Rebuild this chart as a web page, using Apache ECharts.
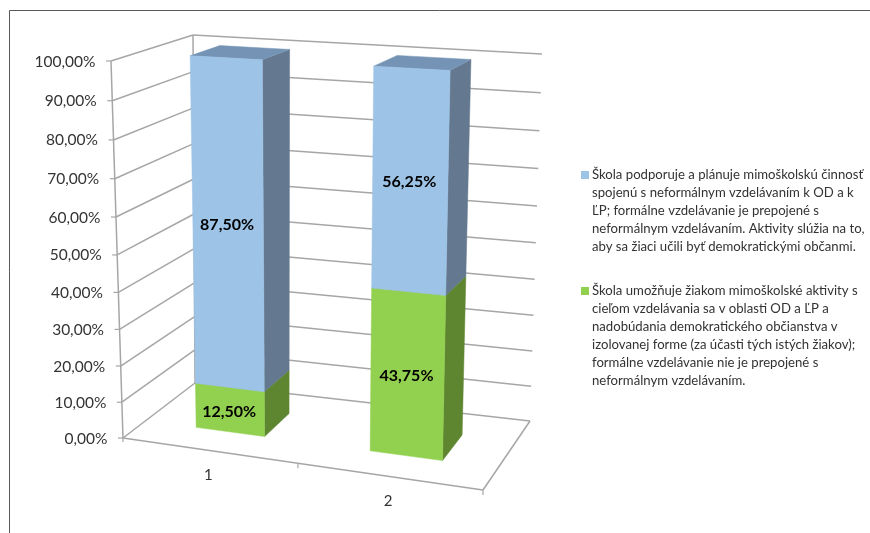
<!DOCTYPE html>
<html>
<head>
<meta charset="utf-8">
<style>html,body{margin:0;padding:0;background:#fff}#c{width:870px;height:533px}</style>
<script src="https://cdn.jsdelivr.net/npm/echarts@6/dist/echarts.min.js"></script>
</head>
<body>
<div id="c"></div>
<script>
const categories = ['1', '2'];
const yTicks = [0, 10, 20, 30, 40, 50, 60, 70, 80, 90, 100];
const yTickLabels = ['0,00%', '10,00%', '20,00%', '30,00%', '40,00%', '50,00%', '60,00%', '70,00%', '80,00%', '90,00%', '100,00%'];
const greenValues = [12.5, 43.75];
const blueValues = [87.5, 56.25];
const greenLabels = ['12,50%', '43,75%'];
const blueLabels = ['87,50%', '56,25%'];
const blueName = 'Škola podporuje a plánuje mimoškolskú činnosť\nspojenú s neformálnym vzdelávaním k OD a k\nĽP; formálne vzdelávanie je prepojené s\nneformálnym vzdelávaním. Aktivity slúžia na to,\naby sa žiaci učili byť demokratickými občanmi.';
const greenName = 'Škola umožňuje žiakom mimoškolské aktivity s\ncieľom vzdelávania sa v oblasti OD a ĽP a\nnadobúdania demokratického občianstva v\nizolovanej forme (za účasti tých istých žiakov);\nformálne vzdelávanie nie je prepojené s\nneformálnym vzdelávaním.';

const FONT = 'Lato';
const TEXT = '#333333';
const GRID = '#a6a6a6';
const W = 870, H = 533;

// Corners of the 3D box on screen: [x][y][z]
const box = {
  '000': [123, 438], '100': [483, 490], '001': [195, 383], '101': [530, 421],
  '010': [111, 61],  '110': [493, 83],  '011': [193, 35],  '111': [542, 54]
};
const persp = { x: -0.055, y: -0.056, z: 0.086 };
const warp = (t, k) => t * (1 + k) / (1 + k * t);
function project(nx, ny, nz) {
  const x = warp(nx, persp.x), y = warp(ny, persp.y), z = warp(nz, persp.z);
  const out = [0, 0];
  for (const i of [0, 1]) for (const j of [0, 1]) for (const k of [0, 1]) {
    const f = (i ? x : 1 - x) * (j ? y : 1 - y) * (k ? z : 1 - z);
    const p = box['' + i + j + k];
    out[0] += f * p[0];
    out[1] += f * p[1];
  }
  return out;
}
// Data space -> unit box, through the (hidden) axes
const nx = px => px / W;
const ny = py => 1 - py / H;
const BAR_FRONT = 0.30, BAR_BACK = 0.685;

function line(a, b, w) {
  return { type: 'line', shape: { x1: a[0], y1: a[1], x2: b[0], y2: b[1] },
           style: { stroke: GRID, lineWidth: w || 1.5 }, silent: true };
}
function poly(pts, fill) {
  return { type: 'polygon', shape: { points: pts }, style: { fill: fill, stroke: fill, lineWidth: 0.5 }, silent: true };
}
function text(str, x, y, size, weight, color, align) {
  return { type: 'text', x: x, y: y, z2: 10, silent: true,
           style: { text: str, fontFamily: FONT, fontSize: size, fontWeight: weight, fill: color,
                    align: align || 'center', verticalAlign: 'middle' } };
}

function renderWall(params, api) {
  const tick = api.value(0);
  const v = ny(api.coord([0, tick])[1]);
  const a = project(0, v, 0), b = project(0, v, 1), c = project(1, v, 1);
  const kids = [
    line([a[0] - 5, a[1]], a, 1.2),
    line(a, b), line(b, c),
    text(yTickLabels[params.dataIndex], a[0] - 15.5, a[1] + 0.5, 15.5, 'normal', TEXT, 'right')
  ];
  if (params.dataIndex === 0) {
    const O = project(0, 0, 0), X = project(1, 0, 0), Z = project(0, 0, 1), R = project(1, 0, 1), Y = project(0, 1, 0), T = project(0, 1, 1);
    kids.push(line(O, Y), line(Z, T), line(O, X), line(X, R), line(O, [O[0], O[1] + 4], 1.2), line(X, [X[0], X[1] + 5], 1.2));
    const M = project(0.5, 0, 0);
    kids.push(line(M, [M[0], M[1] + 5], 1.2));
    categories.forEach((cat, i) => {
      const P = project(nx(api.coord([i, 0])[0]), 0, 0);
      kids.push(text(cat, P[0] - 1, P[1] + 25, 15, 'normal', TEXT));
    });
  }
  return { type: 'group', children: kids };
}

function makeBar(front, side, top, labels) {
  return function (params, api) {
    const i = api.value(0), v0 = api.value(1), v1 = api.value(2);
    const cx = api.coord([i, 0])[0];
    const half = api.size([1, 0])[0] * 0.2;
    const x0 = nx(cx - half), x1 = nx(cx + half);
    const y0 = ny(api.coord([i, v0])[1]), y1 = ny(api.coord([i, v1])[1]);
    const z0 = BAR_FRONT, z1 = BAR_BACK;
    const fa = project(x0, y0, z0), fb = project(x1, y0, z0), fc = project(x1, y1, z0), fd = project(x0, y1, z0);
    const kids = [
      poly([fb, project(x1, y0, z1), project(x1, y1, z1), fc], side),
      poly([fd, fc, project(x1, y1, z1), project(x0, y1, z1)], top),
      poly([fa, fb, fc, fd], front),
      text(labels[i], (fa[0] + fb[0] + fc[0] + fd[0]) / 4 - 1, (fa[1] + fb[1] + fc[1] + fd[1]) / 4 + 2, 16, 'bold', '#000')
    ];
    return { type: 'group', children: kids };
  };
}

const greenData = categories.map((c, i) => [i, 0, greenValues[i]]);
const blueData = categories.map((c, i) => [i, greenValues[i], greenValues[i] + blueValues[i]]);

function legendIcon(offset) {
  return 'path://M0,' + offset + 'h8v8h-8z M0,0h0 M0,100h0';
}

const chart = echarts.init(document.getElementById('c'), null, { renderer: 'canvas' });
chart.setOption({
  animation: false,
  backgroundColor: '#fff',
  grid: { left: 0, right: 0, top: 0, bottom: 0 },
  xAxis: { type: 'category', data: categories, show: false },
  yAxis: { type: 'value', min: 0, max: 100, interval: 10, show: false },
  legend: {
    show: true, orient: 'vertical', left: 581, top: 161, padding: 0, selectedMode: false,
    itemWidth: 8, itemHeight: 100, itemGap: 21,
    textStyle: { fontFamily: FONT, fontSize: 13.15, lineHeight: 18, color: TEXT, padding: [0, 0, 0, -2] },
    data: [
      { name: blueName, icon: legendIcon(10), itemStyle: { color: '#9DC3E6' } },
      { name: greenName, icon: legendIcon(1), itemStyle: { color: '#92D050' } }
    ]
  },
  graphic: [
    { type: 'line', shape: { x1: 9.5, y1: 10.5, x2: 870, y2: 10.5 }, style: { stroke: '#595959', lineWidth: 1 }, silent: true },
    { type: 'line', shape: { x1: 9.5, y1: 10.5, x2: 9.5, y2: 533 }, style: { stroke: '#595959', lineWidth: 1 }, silent: true }
  ],
  series: [
    { type: 'custom', name: 'wall', silent: true, clip: false, data: yTicks.map(t => [t]), encode: { y: 0 }, renderItem: renderWall, z: 1 },
    { type: 'custom', name: greenName, silent: true, clip: false, data: greenData, encode: { x: 0, y: [1, 2] },
      itemStyle: { color: '#92D050' }, renderItem: makeBar('#92D050', '#5E8530', '#7BA83F', greenLabels), z: 2 },
    { type: 'custom', name: blueName, silent: true, clip: false, data: blueData, encode: { x: 0, y: [1, 2] },
      itemStyle: { color: '#9DC3E6' }, renderItem: makeBar('#9DC3E6', '#64798F', '#7594B5', blueLabels), z: 3 }
  ]
});
</script>
</body>
</html>
